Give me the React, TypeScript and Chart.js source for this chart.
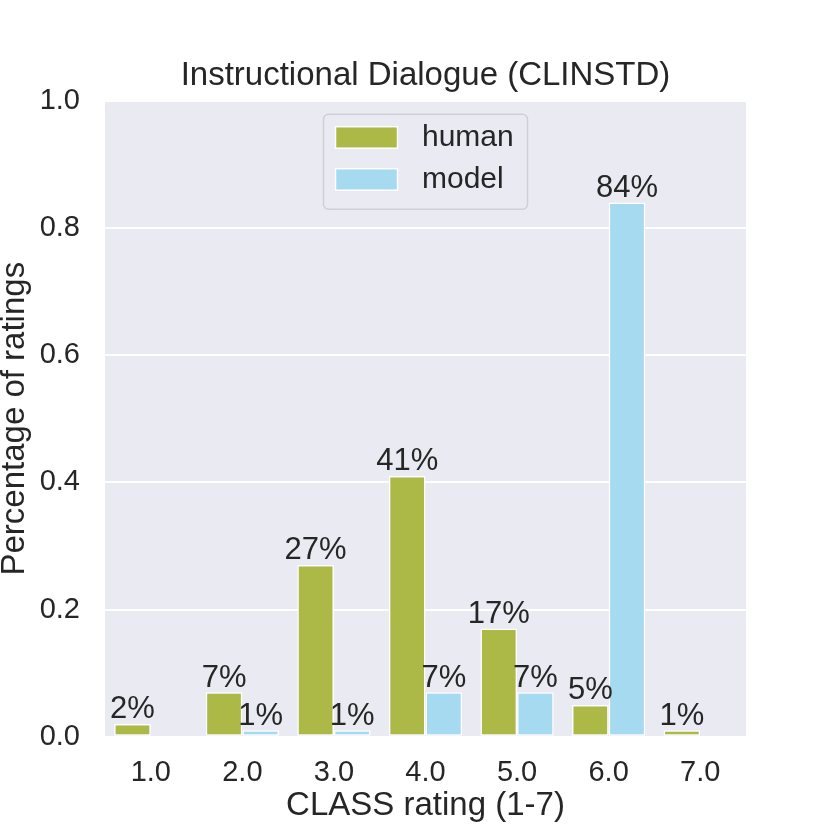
import { useEffect, useRef } from "react";
import { Chart, ChartConfiguration, registerables } from "chart.js";

Chart.register(...registerables);

const categories = ["1.0", "2.0", "3.0", "4.0", "5.0", "6.0", "7.0"];
const humanShares = [0.02, 0.07, 0.27, 0.41, 0.17, 0.05, 0.01];
const modelShares = [0, 0.01, 0.01, 0.07, 0.07, 0.84, 0];
const seriesNames = ["human", "model"];
const yTicks = [0, 0.2, 0.4, 0.6, 0.8, 1.0];
const chartTitle = "Instructional Dialogue (CLINSTD)";
const xAxisTitle = "CLASS rating (1-7)";
const yAxisTitle = "Percentage of ratings";

const FONT = '"Liberation Sans", Arial, Helvetica, sans-serif';
const TEXT = "#262626";
const PANEL = "#EAEAF2";

// grey panel behind the bars, seaborn style
const panelPlugin = {
  id: "panel",
  beforeDraw(chart: Chart) {
    const { ctx, chartArea } = chart;
    ctx.save();
    ctx.fillStyle = PANEL;
    ctx.fillRect(chartArea.left, chartArea.top, chartArea.right - chartArea.left, chartArea.bottom - chartArea.top);
    ctx.restore();
  },
};

// title centred over the plot area, not over the whole canvas
const titlePlugin = {
  id: "plotTitle",
  afterDraw(chart: Chart) {
    const { ctx, chartArea } = chart;
    ctx.save();
    ctx.font = `33px ${FONT}`;
    ctx.fillStyle = TEXT;
    ctx.textAlign = "center";
    ctx.textBaseline = "alphabetic";
    ctx.fillText(chartTitle, (chartArea.left + chartArea.right) / 2, chartArea.top - 15.5);
    ctx.restore();
  },
};

// percentage above every non-zero bar
const valueLabelPlugin = {
  id: "valueLabels",
  afterDatasetsDraw(chart: Chart) {
    const { ctx } = chart;
    ctx.save();
    ctx.font = `31px ${FONT}`;
    ctx.fillStyle = TEXT;
    ctx.textAlign = "center";
    ctx.textBaseline = "alphabetic";
    chart.data.datasets.forEach((dataset, di) => {
      const meta = chart.getDatasetMeta(di);
      meta.data.forEach((bar: any, i) => {
        const v = dataset.data[i] as number;
        if (!v) return;
        ctx.fillText(`${Math.round(v * 100)}%`, bar.x, bar.y - 5.5);
      });
    });
    ctx.restore();
  },
};

// framed legend inside the plot, upper centre
const legendPlugin = {
  id: "boxLegend",
  afterDraw(chart: Chart) {
    const { ctx, chartArea } = chart;
    const w = 204;
    const h = 95;
    const x0 = (chartArea.left + chartArea.right) / 2 - w / 2;
    const y0 = chartArea.top + 13.5;
    ctx.save();
    ctx.beginPath();
    ctx.roundRect(x0, y0, w, h, 5);
    ctx.fillStyle = "rgba(234,234,242,0.8)";
    ctx.fill();
    ctx.lineWidth = 1.5;
    ctx.strokeStyle = "#CFCFD4";
    ctx.stroke();
    ctx.font = `30px ${FONT}`;
    ctx.textBaseline = "middle";
    ctx.textAlign = "left";
    chart.data.datasets.forEach((dataset, i) => {
      const sy = y0 + 12.5 + i * 42;
      ctx.fillStyle = dataset.backgroundColor as string;
      ctx.fillRect(x0 + 12, sy, 62, 21.5);
      ctx.strokeStyle = "#FFFFFF";
      ctx.lineWidth = 1.5;
      ctx.strokeRect(x0 + 12, sy, 62, 21.5);
      ctx.fillStyle = TEXT;
      ctx.fillText(dataset.label ?? "", x0 + 98.5, sy + 11.5);
    });
    ctx.restore();
  },
};

const App: React.FC = () => {
  const canvasRef = useRef<HTMLCanvasElement | null>(null);
  const chartRef = useRef<Chart | null>(null);

  useEffect(() => {
    document.body.style.margin = "0";
    if (!canvasRef.current) return;
    const ctx = canvasRef.current.getContext("2d");
    if (!ctx) return;

    Chart.defaults.font.family = FONT;
    Chart.defaults.color = TEXT;

    const config: ChartConfiguration<"bar"> = {
      type: "bar",
      data: {
        labels: categories,
        datasets: [
          {
            label: seriesNames[0],
            data: humanShares,
            backgroundColor: "#ADB947",
            borderColor: "#FFFFFF",
            borderWidth: 1.5,
            borderSkipped: false,
            categoryPercentage: 0.8,
            barPercentage: 1.0,
          },
          {
            label: seriesNames[1],
            data: modelShares,
            backgroundColor: "#A6DAF1",
            borderColor: "#FFFFFF",
            borderWidth: 1.5,
            borderSkipped: false,
            categoryPercentage: 0.8,
            barPercentage: 1.0,
          },
        ],
      },
      plugins: [panelPlugin, titlePlugin, valueLabelPlugin, legendPlugin],
      options: {
        responsive: false,
        animation: false,
        devicePixelRatio: 1,
        layout: { padding: { top: 100.7, right: 84, bottom: 0, left: 0 } },
        plugins: {
          legend: { display: false },
          title: { display: false },
          tooltip: { enabled: false },
        },
        scales: {
          x: {
            grid: { display: false, drawTicks: false },
            border: { display: false },
            ticks: { font: { size: 29 }, padding: 19, color: TEXT },
            title: {
              display: true,
              text: xAxisTitle,
              font: { size: 33, lineHeight: 1.2 },
              padding: { top: 0, bottom: 4 },
              color: TEXT,
            },
            afterFit: (scale) => {
              scale.height = 93.3;
            },
          },
          y: {
            min: 0,
            max: 1,
            grid: { color: "#FFFFFF", lineWidth: 2, drawTicks: false },
            border: { display: false },
            ticks: {
              font: { size: 29 },
              padding: 25,
              color: TEXT,
              callback: (value) => Number(value).toFixed(1),
            },
            afterBuildTicks: (axis) => {
              axis.ticks = yTicks.map((v) => ({ value: v }));
            },
            title: {
              display: true,
              text: yAxisTitle,
              font: { size: 33, lineHeight: 0.875 },
              padding: { top: 0, bottom: 0 },
              color: TEXT,
            },
            afterFit: (scale) => {
              scale.width = 105;
            },
          },
        },
      },
    };

    chartRef.current = new Chart(ctx, config);

    return () => {
      chartRef.current?.destroy();
      chartRef.current = null;
    };
  }, []);

  return (
    <div style={{ width: 830, height: 830, background: "#FFFFFF" }}>
      <canvas ref={canvasRef} width={830} height={830} style={{ display: "block" }} />
    </div>
  );
};

export default App;
